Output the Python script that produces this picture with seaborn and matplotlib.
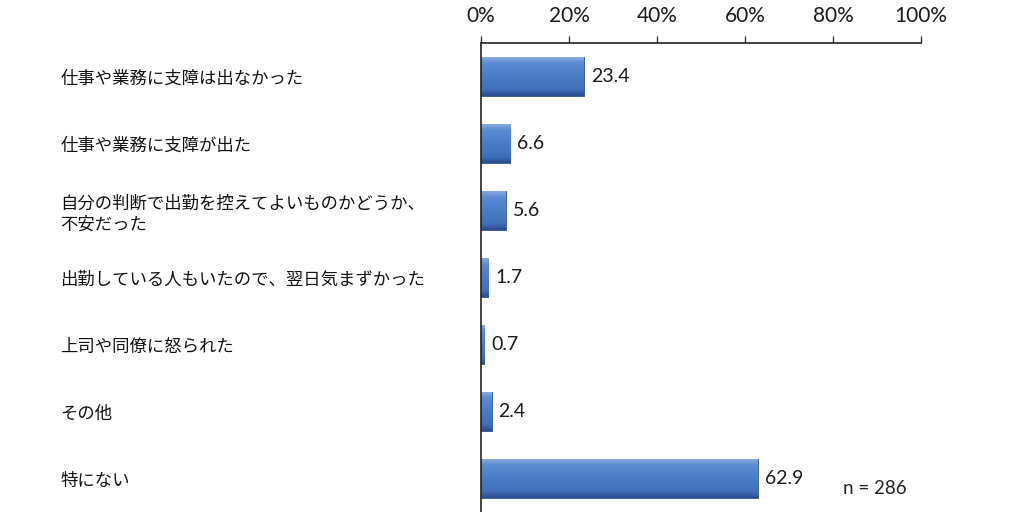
import numpy as np
import pandas as pd
import matplotlib
matplotlib.use("Agg")
import matplotlib.pyplot as plt
import seaborn as sns
from matplotlib.colors import LinearSegmentedColormap

categories = [
    "仕事や業務に支障は出なかった",
    "仕事や業務に支障が出た",
    "自分の判断で出勤を控えてよいものかどうか、\n不安だった",
    "出勤している人もいたので、翌日気まずかった",
    "上司や同僚に怒られた",
    "その他",
    "特にない",
]
values = [23.4, 6.6, 5.6, 1.7, 0.7, 2.4, 62.9]
x_ticks = [0, 20, 40, 60, 80, 100]
x_tick_labels = ["0%", "20%", "40%", "60%", "80%", "100%"]
note = "n = 286"

sns.set_theme(style="white")
plt.rcParams["font.family"] = ["Noto Sans CJK JP", "DejaVu Sans"]

df = pd.DataFrame({"category": categories, "value": values})

fig = plt.figure(figsize=(10.24, 5.12), dpi=100)
ax = fig.add_axes([481 / 1024, 0.0, 440 / 1024, 1 - 43 / 512])

sns.barplot(data=df, y="category", x="value", orient="h", color="#4A7CC6",
            width=0.57, ax=ax, edgecolor="#2B4F8E", linewidth=0.6)

# gradient fill clipped to each bar
cmap = LinearSegmentedColormap.from_list(
    "bar", [(0, "#86AAE0"), (0.15, "#5B8BD2"), (0.5, "#4A7CC6"),
            (0.85, "#3F6FB8"), (1, "#284B8C")])
grad = np.linspace(0, 1, 64).reshape(-1, 1)
for p in list(ax.patches):
    x0, y0 = p.get_x(), p.get_y()
    w, h = p.get_width(), p.get_height()
    im = ax.imshow(grad, cmap=cmap, aspect="auto",
                   extent=[x0, x0 + w, y0 + h, y0],
                   zorder=p.get_zorder() + 0.1, interpolation="bicubic")
    im.set_clip_path(p)

ax.set_xlim(0, 100)
ax.set_ylim(len(categories) - 0.5, -0.5)

for c in ax.containers:
    ax.bar_label(c, fmt="%.1f", padding=5, fontsize=14, family="Lato",
                 color="#1a1a1a")

ax.xaxis.tick_top()
ax.set_xticks(x_ticks)
ax.set_xticklabels(x_tick_labels, family="Lato", fontsize=15, color="#1a1a1a")
ax.tick_params(axis="x", direction="out", length=5, width=1, color="#333333",
               pad=7, top=True, bottom=False)
ax.tick_params(axis="y", length=0, pad=303)
for lab in ax.get_yticklabels():
    lab.set_ha("left")
    lab.set_fontsize(12.5)
    lab.set_color("#111111")
    lab.set_linespacing(1.25)

ax.set_xlabel("")
ax.set_ylabel("")
for s in ["right", "bottom"]:
    ax.spines[s].set_visible(False)
for s in ["left", "top"]:
    ax.spines[s].set_visible(True)
    ax.spines[s].set_color("#222222")
    ax.spines[s].set_linewidth(1.2)

fig.text(843 / 1024, 1 - 488 / 512, note, family="Lato", fontsize=13.5,
         va="center", ha="left", color="#222222")

fig.savefig("out.png", dpi=100)
